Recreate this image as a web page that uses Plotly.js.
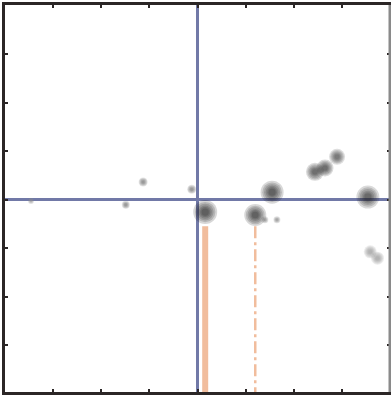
<!DOCTYPE html>
<html>
<head>
<meta charset="utf-8">
<script src="https://cdn.plot.ly/plotly-3.0.1.min.js"></script>
<style>html,body{margin:0;padding:0;background:#fff;}#chart{width:391px;height:396px;}</style>
</head>
<body>
<div id="chart"></div>
<script>
// Blob (cluster) positions in data units, with diameter (px) and darkness (0-1)
const blobX    = [0.16, -0.12, 1.55, 1.20, 1.40, 1.65, 2.44, 2.65, 2.90, 3.54, 3.59, 3.74, -1.13, -3.46, -1.49];
const blobY    = [-0.25, 0.22, 0.16, -0.31, -0.41, -0.41, 0.58, 0.66, 0.89, 0.06, -1.07, -1.20, 0.37, -0.02, -0.10];
const blobSize = [24, 9, 23, 22, 7, 7, 18, 17, 16, 23, 13, 13, 9, 6, 8];
const blobDark = [1.0, 0.5, 0.95, 0.95, 0.4, 0.4, 0.85, 0.85, 0.75, 0.9, 0.3, 0.3, 0.5, 0.3, 0.5];

// Vertical orange traces: solid bar and dash-dot line
const barX = [0.16, 0.16];
const barY = [-0.54, -3.96];
const dashX = [1.20, 1.20];
const dashY = [-0.54, -3.96];

// Tick values (labels are not shown)
const xTicks = [-3, -2, -1, 0, 1, 2, 3];
const yTicks = [-3, -2, -1, 0, 1, 2, 3];

function blobColor(d, a) {
  const g = Math.round(200 - 185 * d);
  return 'rgba(' + g + ',' + g + ',' + g + ',' + a + ')';
}
const layers = [1.0, 0.85, 0.7, 0.55, 0.42, 0.3];
const blobTraces = layers.map(k => ({
  type: 'scatter', mode: 'markers', x: blobX, y: blobY, hoverinfo: 'skip',
  marker: {size: blobSize.map(s => s * k), color: blobDark.map(d => blobColor(d, 0.24)), line: {width: 0}}
}));

const data = [
  {type: 'scatter', mode: 'lines', x: barX, y: barY, line: {color: '#f1bd9d', width: 6}, hoverinfo: 'skip'},
  {type: 'scatter', mode: 'lines', x: dashX, y: dashY, line: {color: '#f1bd9d', width: 2.5, dash: '12px,4px,3px,4px'}, hoverinfo: 'skip'}
].concat(blobTraces);

const layout = {
  width: 391, height: 396,
  margin: {l: 5, r: 1, t: 5, b: 4, pad: 0},
  paper_bgcolor: '#ffffff', plot_bgcolor: '#ffffff',
  showlegend: false,
  xaxis: {range: [-4, 4], tickvals: xTicks, showticklabels: false, ticks: 'inside', ticklen: 3, tickwidth: 2, tickcolor: '#2b2626',
          showgrid: false, zeroline: true, zerolinecolor: '#7179a7', zerolinewidth: 3,
          showline: true, linecolor: '#2b2626', linewidth: 3, mirror: 'ticks'},
  yaxis: {range: [-3.96, 4.02], tickvals: yTicks, showticklabels: false, ticks: 'inside', ticklen: 3, tickwidth: 2, tickcolor: '#2b2626',
          showgrid: false, zeroline: true, zerolinecolor: '#7179a7', zerolinewidth: 3,
          showline: true, linecolor: '#2b2626', linewidth: 3, mirror: 'ticks'},
  shapes: [{type: 'line', xref: 'paper', yref: 'paper', x0: 1, x1: 1, y0: 0, y1: 1, line: {color: '#8a8a8a', width: 3}, layer: 'above'}]
};
Plotly.newPlot('chart', data, layout, {staticPlot: true, displayModeBar: false});
</script>
</body>
</html>
